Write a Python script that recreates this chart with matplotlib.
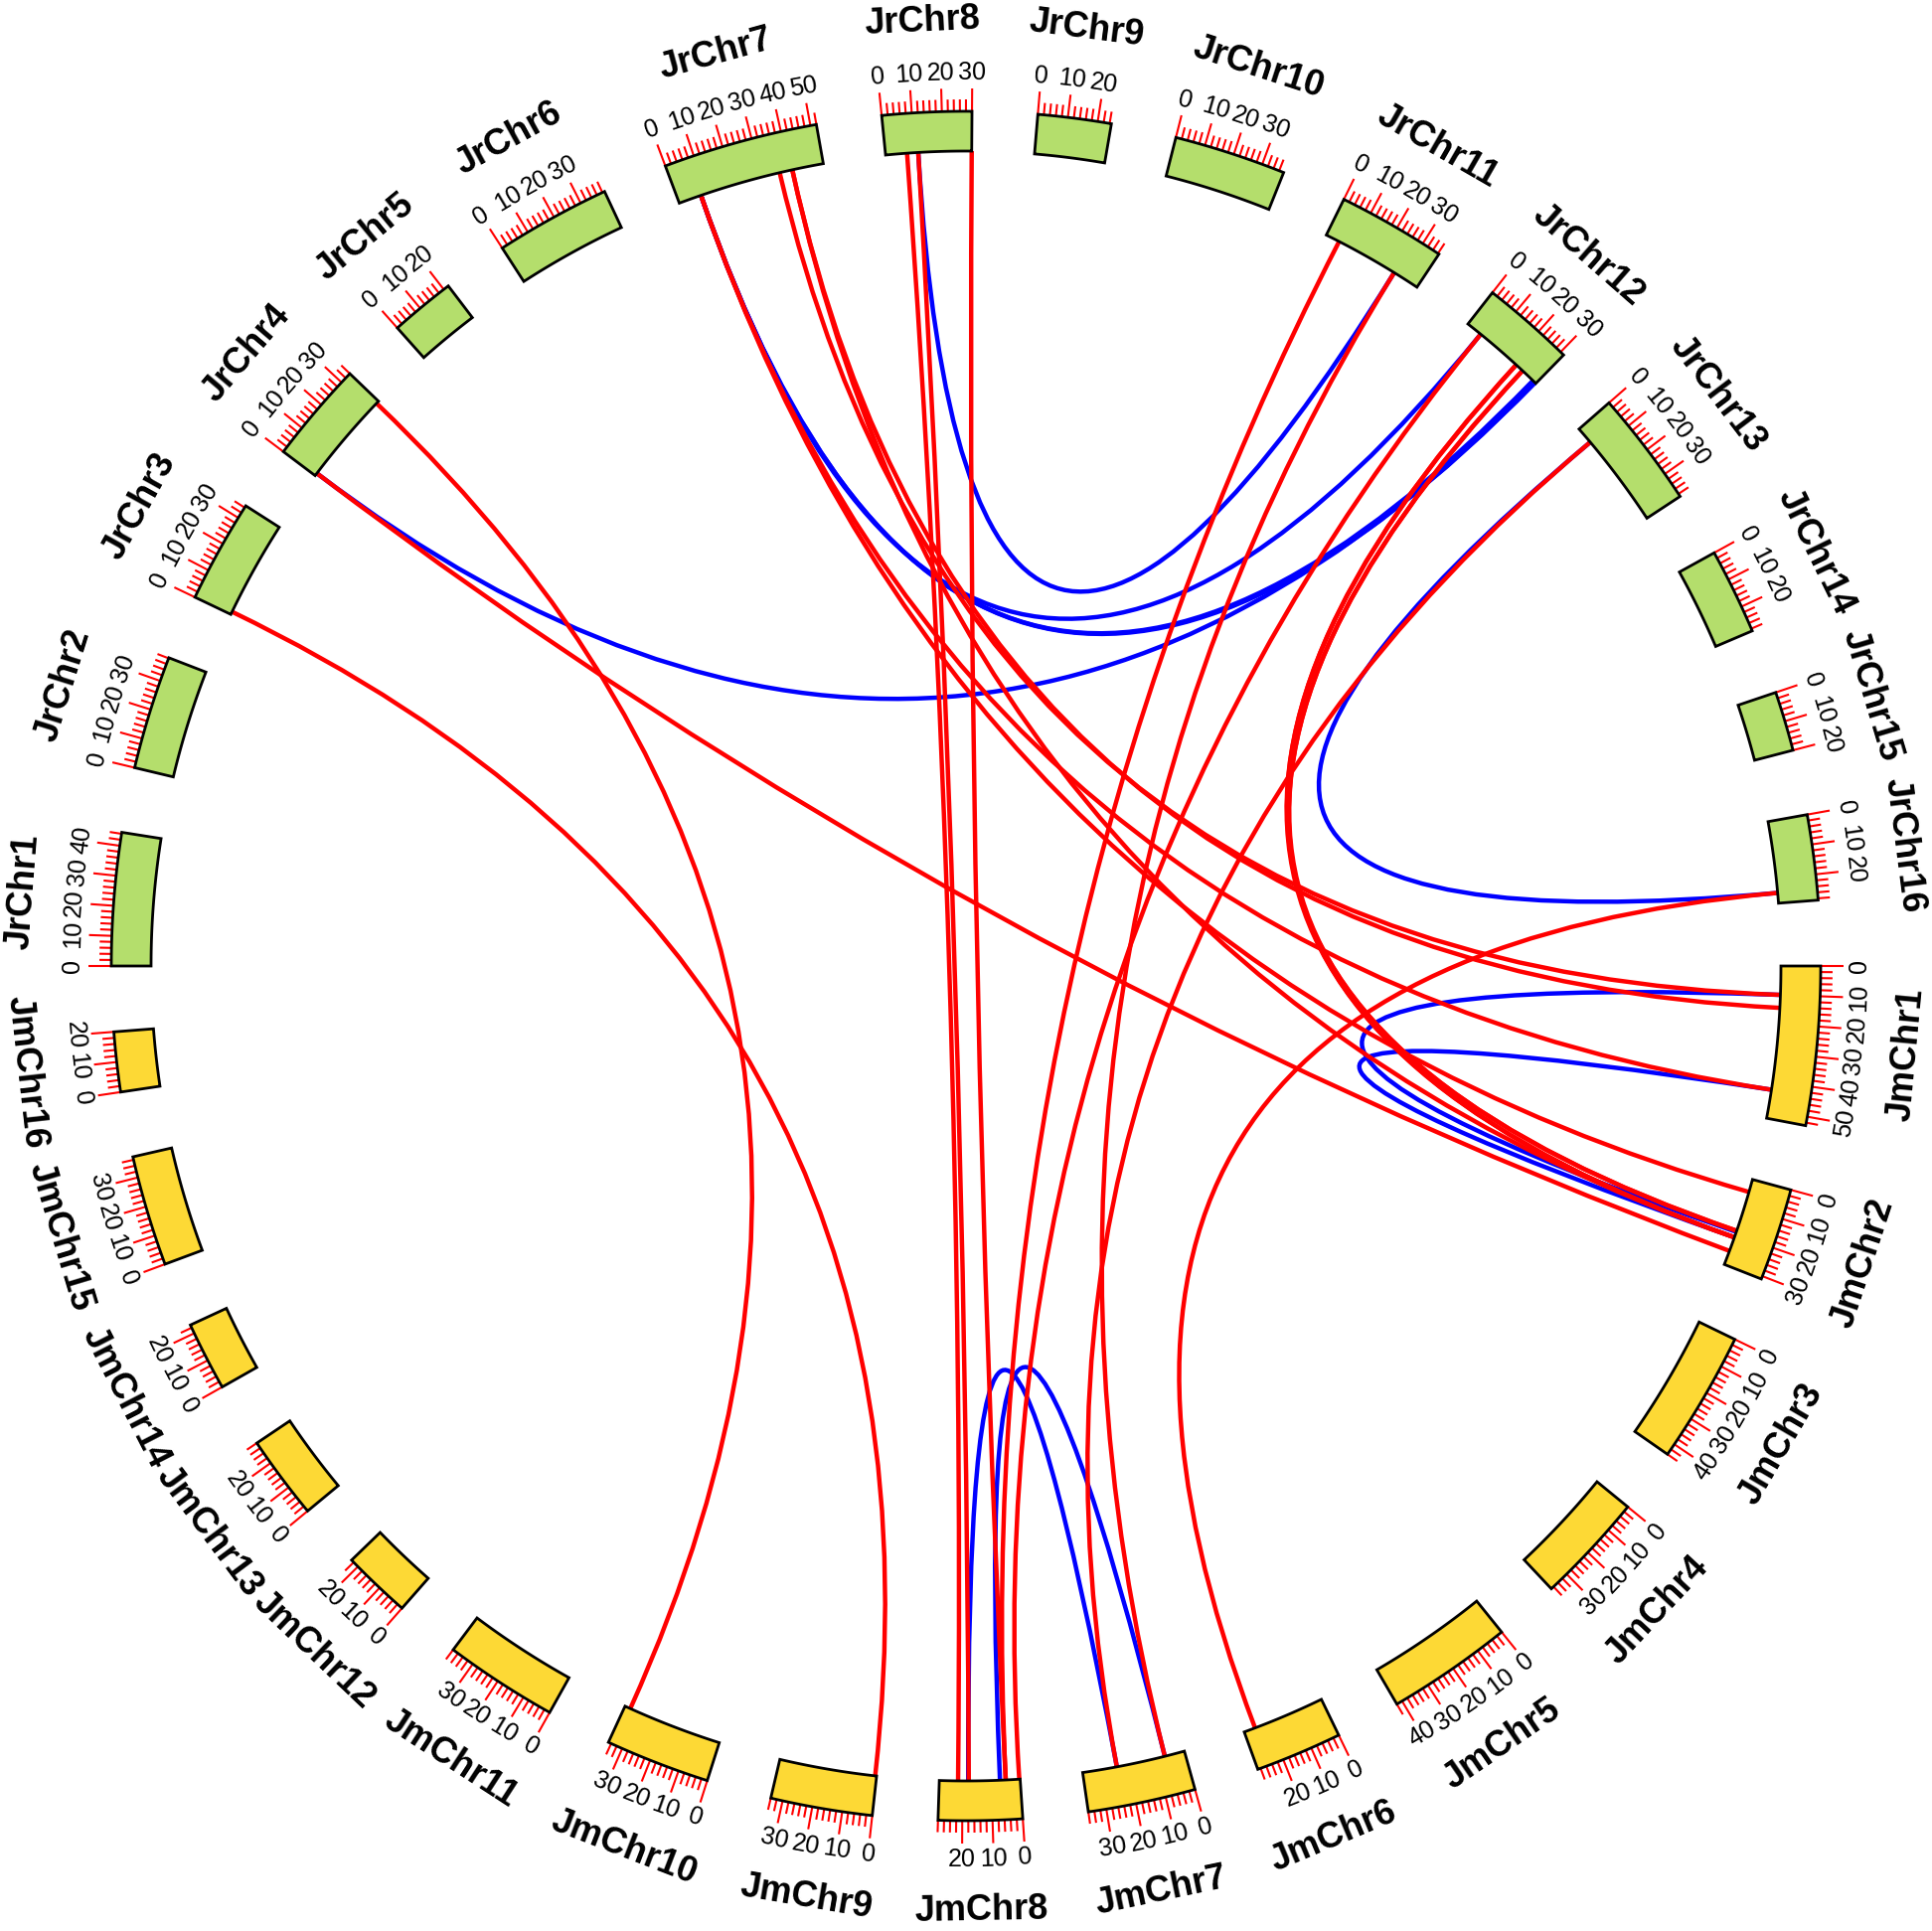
import numpy as np
import matplotlib.pyplot as plt
from matplotlib.path import Path
from matplotlib.patches import PathPatch, Polygon

# chromosome lengths (Mb)
jr_names = ['JrChr%d' % i for i in range(1, 17)]
jr_len = [44.5, 38.2, 34.7, 34, 21.9, 38.8, 52, 30, 24.6, 37.6, 36.4, 31.4, 39, 28.8, 20, 28.6]
jm_names = ['JmChr%d' % i for i in range(1, 17)]
jm_len = [53, 31, 44, 37, 42, 29, 36, 28, 34, 35, 38, 23, 28, 23, 37, 20]

# syntenic links: (chrA, posA, chrB, posB)
red_links = [
    ('JrChr3', 1, 'JmChr9', 0.5),
    ('JrChr4', 33, 'JmChr10', 33),
    ('JrChr4', 1, 'JmChr2', 26),
    ('JrChr8', 7.5, 'JmChr8', 21.5),
    ('JrChr8', 11.4, 'JmChr8', 17.8),
    ('JrChr8', 30, 'JmChr8', 5),
    ('JrChr11', 5, 'JmChr8', 5),
    ('JrChr12', 5.7, 'JmChr8', 0.3),
    ('JrChr13', 6, 'JmChr7', 24),
    ('JrChr11', 27, 'JmChr7', 7),
    ('JrChr16', 25, 'JmChr6', 25),
    ('JrChr7', 36.5, 'JmChr1', 10),
    ('JrChr7', 41, 'JmChr1', 14.5),
    ('JrChr7', 8, 'JmChr1', 43),
    ('JrChr7', 8, 'JmChr2', 4.5),
    ('JrChr7', 41, 'JmChr2', 21),
    ('JrChr12', 22, 'JmChr2', 18.6),
    ('JrChr12', 25, 'JmChr2', 21),
    ('JrChr12', 22, 'JmChr2', 21),
    ('JrChr12', 25, 'JmChr2', 18.6),
]
blue_links = [
    ('JrChr4', 1, 'JrChr12', 31),
    ('JrChr8', 11.4, 'JrChr11', 27),
    ('JrChr7', 8, 'JrChr12', 5.7),
    ('JrChr7', 8, 'JrChr12', 30),
    ('JrChr7', 8, 'JrChr12', 31),
    ('JrChr13', 6, 'JrChr16', 25),
    ('JmChr1', 10, 'JmChr2', 19),
    ('JmChr1', 43, 'JmChr2', 21),
    ('JmChr8', 18, 'JmChr7', 24),
    ('JmChr8', 7, 'JmChr7', 7),
]

W, H = 1944, 1943
cx, cy = 972, 971
r_in, r_out = 820, 860
gap = 4.42

# angular layout: Jr on the upper half, Jm on the lower half, clockwise
layout = {}
for names, lens, start, sp in [(jr_names, jr_len, 180.0, 'jr'), (jm_names, jm_len, 0.0, 'jm')]:
    scale = (180 - gap * len(lens)) / sum(lens)
    a = start
    for n, L in zip(names, lens):
        layout[n] = (a, scale, L, sp)
        a -= L * scale + gap


def ang(chrom, mb):
    a0, s, L, sp = layout[chrom]
    return a0 - mb * s


def pt(deg, r):
    t = np.deg2rad(deg)
    return cx + r * np.cos(t), cy + r * np.sin(t)


fig = plt.figure(figsize=(W / 100, H / 100), dpi=100)
ax = fig.add_axes([0, 0, 1, 1])
ax.set_xlim(0, W)
ax.set_ylim(0, H)
ax.axis('off')

font = 'Liberation Sans'

for n in jr_names + jm_names:
    a0, s, L, sp = layout[n]
    a1 = a0 - L * s
    th = np.linspace(a0, a1, 60)
    outer = [pt(t, r_out) for t in th]
    inner = [pt(t, r_in) for t in th[::-1]]
    col = '#B4DE6C' if sp == 'jr' else '#FDD935'
    ax.add_patch(Polygon(outer + inner, closed=True, fc=col, ec='black', lw=2.0, zorder=3))
    rot_off = -90 if sp == 'jr' else 90
    for m in np.arange(0, L + 0.01, 2):
        a = ang(n, m)
        major = int(round(m)) % 10 == 0
        x0, y0 = pt(a, r_out)
        x1, y1 = pt(a, r_out + (23 if major else 12))
        ax.plot([x0, x1], [y0, y1], color='red', lw=1.5, zorder=2, solid_capstyle='butt')
        if major:
            tx, ty = pt(a, r_out + 39)
            ax.text(tx, ty, '%d' % int(round(m)), fontsize=18, family=font,
                    rotation=a + rot_off, rotation_mode='anchor', ha='center', va='center')
    am = (a0 + a1) / 2
    tx, ty = pt(am, 951)
    ax.text(tx, ty, n, fontsize=26, fontweight='bold', family=font,
            rotation=am + rot_off, rotation_mode='anchor', ha='center', va='center')


def draw_link(c1, p1, c2, p2, color):
    P0 = pt(ang(c1, p1), r_in)
    P2 = pt(ang(c2, p2), r_in)
    path = Path([P0, (cx, cy), P2], [Path.MOVETO, Path.CURVE3, Path.CURVE3])
    ax.add_patch(PathPatch(path, fc='none', ec=color, lw=3.2, zorder=1))


for c1, p1, c2, p2 in blue_links:
    draw_link(c1, p1, c2, p2, '#0000FF')
for c1, p1, c2, p2 in red_links:
    draw_link(c1, p1, c2, p2, '#FF0000')

fig.savefig('out.png', dpi=100, facecolor='white')
